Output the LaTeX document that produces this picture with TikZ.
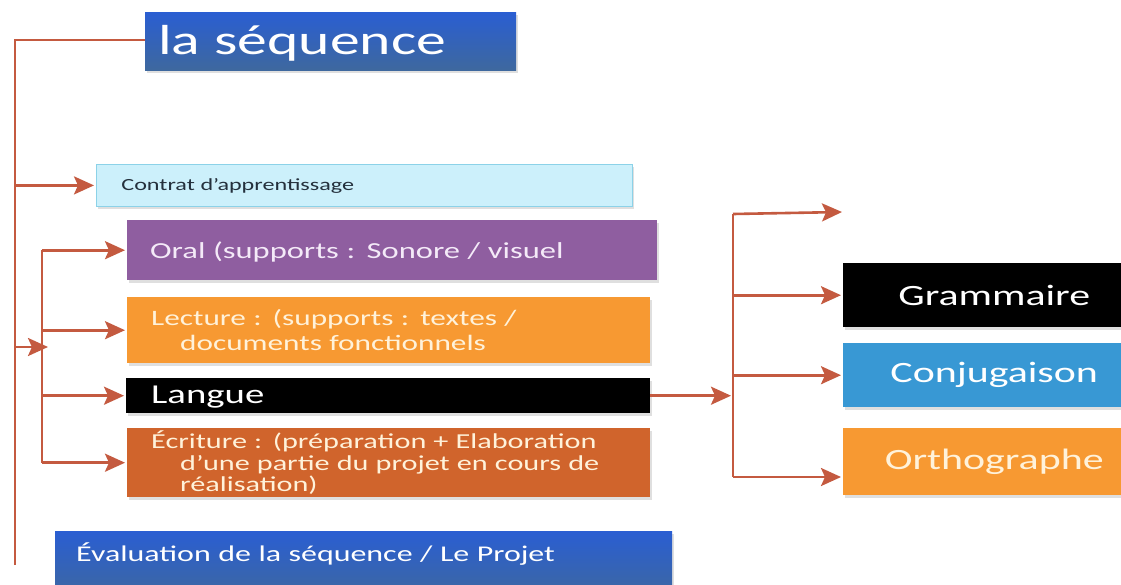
\documentclass[tikz,border=0pt]{standalone}
\usepackage{fontspec}
\setmainfont{Carlito}[FakeStretch=1.42]
\usetikzlibrary{arrows.meta,shadows}
\definecolor{lnk}{RGB}{196,90,64}
\definecolor{bluet}{RGB}{42,94,210}
\definecolor{blueb}{RGB}{62,104,158}
\definecolor{cyanfill}{RGB}{204,240,251}
\definecolor{cyanline}{RGB}{140,210,232}
\definecolor{purp}{RGB}{143,94,160}
\definecolor{orng}{RGB}{247,153,50}
\definecolor{rust}{RGB}{208,100,44}
\definecolor{conjc}{RGB}{56,152,212}
\definecolor{darktxt}{RGB}{36,48,60}
\definecolor{creamtxt}{RGB}{255,242,218}
\definecolor{lavtxt}{RGB}{244,234,248}
\begin{document}
\begin{tikzpicture}[x=1pt,y=-1pt,
  box/.style={rectangle, anchor=north west, inner ysep=0pt, align=left,
    drop shadow={shadow xshift=1.5pt,shadow yshift=-3pt,opacity=0.25}},
  rbox/.style={rectangle, anchor=north west, minimum width=302pt, align=center,
    font=\fontsize{29.5}{33}\selectfont,
    drop shadow={shadow xshift=1.5pt,shadow yshift=-3pt,opacity=0.25}},
  ln/.style={draw=lnk, line width=2.6pt, line join=miter},
  arr/.style={ln, -{Stealth[length=20pt,width=18pt,inset=4pt]}, shorten >=2pt}
]
\clip (0,0) rectangle (1121,584);
\fill[white] (0,0) rectangle (1121,584);

% boxes
\node[box, top color=bluet, bottom color=blueb, text=white, inner xsep=13pt,
  text width=345pt, text height=42pt, text depth=16pt,
  font=\fontsize{42}{45}\selectfont] (seq) at (145,12) {la séquence};

\node[box, fill=cyanfill, draw=cyanline, line width=0.8pt, text=darktxt,
  inner xsep=25pt, text width=486pt, text height=26.5pt, text depth=15.5pt,
  font=\fontsize{17}{20}\selectfont] (contrat) at (96,164) {Contrat d’apprentissage};

\node[box, fill=purp, text=lavtxt, inner xsep=23pt, text width=484pt,
  text height=38pt, text depth=22pt,
  font=\fontsize{22.9}{26}\selectfont] (oral) at (127,220) {Oral (supports : Sonore / visuel};

\node[box, fill=orng, text=creamtxt, inner xsep=24pt, text width=475pt,
  minimum height=66pt, font=\fontsize{22}{25}\selectfont] (lect) at (127,297)
  {Lecture : (supports : textes /\\\hspace*{29pt}documents fonctionnels};

\node[box, fill=black, text=white, inner xsep=25pt, text width=474pt,
  text height=25pt, text depth=10pt,
  font=\fontsize{27.3}{30}\selectfont] (langue) at (126,378) {Langue};

\node[box, fill=rust, text=creamtxt, inner xsep=24pt, text width=475pt,
  minimum height=69pt, font=\fontsize{21.3}{21.5}\selectfont] (ecr) at (127,428)
  {Écriture : (préparation + Elaboration\\\hspace*{29pt}d’une partie du projet en cours de\\\hspace*{29pt}réalisation)};

\node[box, top color=bluet, bottom color=blueb, text=white, inner xsep=21pt,
  text width=575pt, text height=30pt, text depth=39pt,
  font=\fontsize{22.5}{26}\selectfont] (eval) at (55,531) {Évaluation de la séquence / Le Projet};

\node[rbox, fill=black, text=white, minimum height=64pt] (gram) at (843,263) {Grammaire};
\node[rbox, fill=conjc, text=white, minimum height=64pt] (conj) at (843,343) {Conjugaison};
\node[rbox, fill=orng, text=creamtxt, minimum height=67pt] (orth) at (843,428) {Orthographe};

% left tree
\coordinate (top) at (15,40);
\coordinate (bot) at (15,565);
\coordinate (ix) at (42,347);
\draw[ln] (bot) -- (top) -- (top -| seq.west);
\draw[arr] (top |- contrat.west) -- (contrat.west);
\draw[arr, shorten >=-6pt] (top |- ix) -- (ix);
\draw[ln] (ix |- oral.west) -- (ix |- ecr.west);
\draw[arr] (ix |- oral.west) -- (oral.west);
\draw[arr] (ix |- lect.west) -- (lect.west);
\draw[arr] (ix |- langue.west) -- (langue.west);
\draw[arr] (ix |- ecr.west) -- (ecr.west);

% right tree
\coordinate (rt) at (733,214);
\coordinate (rb) at (733,477);
\coordinate (et) at (842,212);
\draw[arr] (langue.east) -- (rt |- langue.east);
\draw[ln] (rt) -- (rb);
\draw[arr, shorten >=0pt] (rt) -- (et);
\draw[arr] (rt |- gram.west) -- (gram.west);
\draw[arr] (rt |- conj.west) -- (conj.west);
\draw[arr] (rb) -- (rb -| orth.west);
\end{tikzpicture}
\end{document}
